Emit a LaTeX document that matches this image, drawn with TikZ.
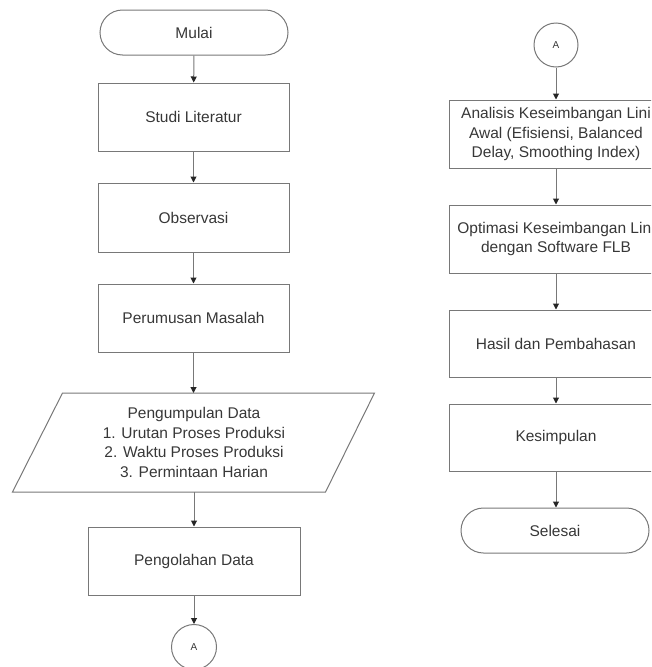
\documentclass[tikz,border=0pt]{standalone}
\usepackage{fontspec}
\setmainfont{Liberation Sans}
\usetikzlibrary{arrows.meta}
\definecolor{linegray}{RGB}{120,120,120}
\definecolor{txtgray}{RGB}{55,55,55}
\tikzset{
  box/.style={draw=linegray, line width=1pt, text=txtgray, align=center,
    font=\fontsize{15.5}{19.5}\selectfont, inner sep=2pt},
  procbox/.style={box, minimum height=68pt},
  termbox/.style={box, minimum width=188pt, minimum height=45pt, rounded corners=22.5pt},
  conn/.style={box, circle, minimum size=45pt, font=\fontsize{10}{12}\selectfont},
  flow/.style={draw=linegray, line width=1pt, -{Triangle[length=6pt,width=6pt,color=black!85]}}
}
\begin{document}
\begin{tikzpicture}[x=1pt,y=-1pt]
\useasboundingbox (0,0) rectangle (651,667);
\clip (0,0) rectangle (651,667);
% left column
\node[termbox] (mulai) at (194,32.5) {Mulai};
\node[procbox, minimum width=191pt] (studi) at (193.5,117) {Studi Literatur};
\node[procbox, minimum width=191pt, minimum height=69pt] (obs) at (193.5,217.5) {Observasi};
\node[procbox, minimum width=191pt] (perum) at (193.5,318) {Perumusan Masalah};
\node[box, draw=none, minimum width=262pt, minimum height=98pt] (data) at (194,442.5)
  {Pengumpulan Data\\1. Urutan Proses Produksi\\2. Waktu Proses Produksi\\3. Permintaan Harian};
\draw[draw=linegray, line width=1pt] (data.north west) -- ([xshift=49pt]data.north east)
  -- (data.south east) -- ([xshift=-50pt]data.south west) -- cycle;
\node[procbox, minimum width=212pt] (olah) at (194,561) {Pengolahan Data};
\node[conn] (a1) at (194,647) {A};
% right column
\node[conn, minimum size=44pt] (a2) at (556,45) {A};
\node[procbox, minimum width=214pt] (anal) at (556,134)
  {Analisis Keseimbangan Lini\\Awal (Efisiensi, Balanced\\Delay, Smoothing Index)};
\node[procbox, minimum width=214pt] (opt) at (556,239)
  {Optimasi Keseimbangan Lini\\dengan Software FLB};
\node[procbox, minimum width=214pt, minimum height=67pt] (hasil) at (556,343.5) {Hasil dan Pembahasan};
\node[procbox, minimum width=214pt, minimum height=67pt] (kes) at (556,437.5) {Kesimpulan};
\node[termbox] (sel) at (555,530.5) {Selesai};
% connectors
\draw[flow] (mulai) -- (studi);
\draw[flow] (studi) -- (obs);
\draw[flow] (obs) -- (perum);
\draw[flow] (perum.south) -- (perum.south |- data.north);
\draw[flow] (data.south) -- (olah.north);
\draw[flow] (olah) -- (a1);
\draw[flow] (a2) -- (anal);
\draw[flow] (anal) -- (opt);
\draw[flow] (opt) -- (hasil);
\draw[flow] (hasil) -- (kes);
\draw[flow] (kes.south) -- (kes.south |- sel.north);
\end{tikzpicture}
\end{document}
